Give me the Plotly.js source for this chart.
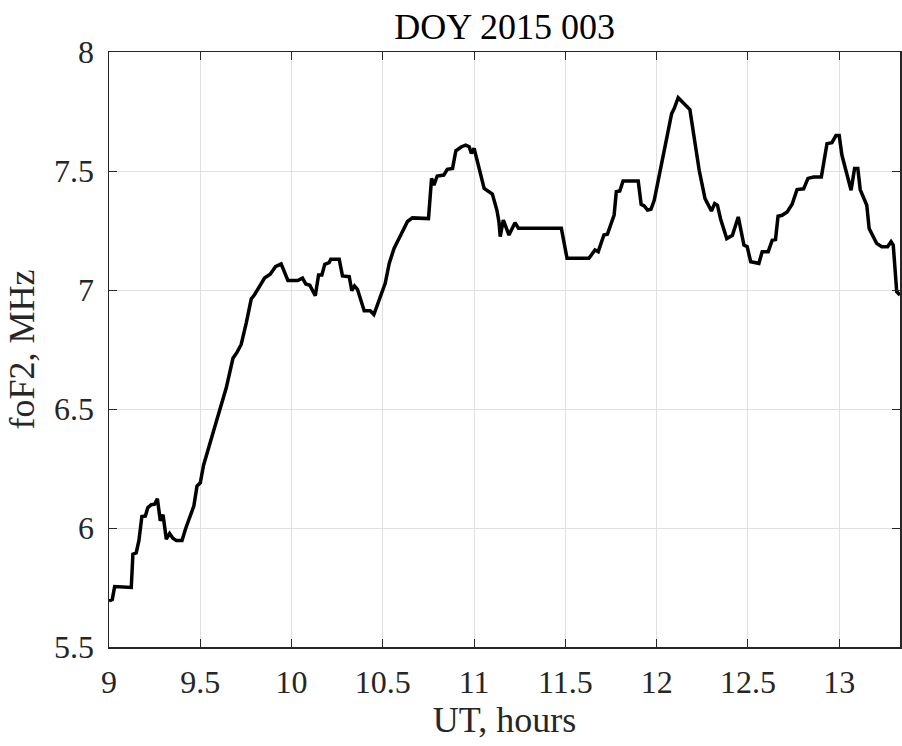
<!DOCTYPE html>
<html>
<head>
<meta charset="utf-8">
<script src="https://cdn.plot.ly/plotly-3.0.1.min.js"></script>
<style>html,body{margin:0;padding:0;background:#fff;}#chart{width:902px;height:746px;}</style>
</head>
<body>
<div id="chart"></div>
<script>
const utHours = [9.000,9.018,9.031,9.122,9.131,9.149,9.164,9.180,9.199,9.213,9.232,9.250,9.265,9.281,9.296,9.314,9.332,9.350,9.369,9.400,9.420,9.442,9.465,9.482,9.500,9.518,9.551,9.588,9.642,9.679,9.701,9.724,9.752,9.779,9.797,9.825,9.852,9.883,9.912,9.943,9.962,9.980,10.033,10.060,10.078,10.100,10.130,10.148,10.166,10.182,10.206,10.215,10.261,10.279,10.316,10.330,10.345,10.361,10.398,10.431,10.451,10.480,10.513,10.535,10.562,10.599,10.635,10.662,10.750,10.767,10.780,10.798,10.834,10.853,10.882,10.900,10.931,10.954,10.973,10.985,11.000,11.016,11.055,11.100,11.125,11.136,11.143,11.160,11.191,11.224,11.243,11.478,11.509,11.629,11.662,11.680,11.711,11.730,11.754,11.767,11.779,11.798,11.816,11.899,11.915,11.932,11.950,11.969,11.987,12.024,12.082,12.096,12.118,12.182,12.233,12.265,12.300,12.318,12.333,12.351,12.384,12.415,12.447,12.478,12.496,12.515,12.560,12.578,12.611,12.633,12.651,12.665,12.687,12.715,12.742,12.769,12.805,12.829,12.860,12.902,12.933,12.960,12.982,13.000,13.015,13.065,13.084,13.102,13.115,13.151,13.164,13.205,13.233,13.265,13.284,13.296,13.315,13.333];
const foF2 = [5.694,5.700,5.754,5.750,5.890,5.895,5.948,6.048,6.050,6.086,6.098,6.100,6.123,6.030,6.056,5.953,5.977,5.957,5.947,5.947,5.998,6.043,6.093,6.176,6.190,6.264,6.355,6.447,6.588,6.713,6.738,6.771,6.862,6.962,6.980,7.017,7.050,7.066,7.098,7.110,7.070,7.040,7.040,7.050,7.025,7.020,6.976,7.063,7.063,7.108,7.115,7.129,7.129,7.059,7.056,6.997,7.017,7.003,6.913,6.913,6.897,6.955,7.028,7.112,7.176,7.232,7.288,7.303,7.300,7.469,7.441,7.479,7.483,7.507,7.511,7.585,7.602,7.609,7.602,7.574,7.595,7.546,7.427,7.403,7.335,7.287,7.224,7.294,7.231,7.283,7.259,7.259,7.133,7.133,7.168,7.161,7.231,7.234,7.294,7.315,7.413,7.416,7.458,7.458,7.360,7.353,7.336,7.339,7.378,7.518,7.741,7.762,7.808,7.758,7.503,7.384,7.332,7.363,7.356,7.296,7.216,7.230,7.307,7.189,7.182,7.119,7.112,7.161,7.161,7.209,7.212,7.310,7.314,7.328,7.360,7.422,7.425,7.469,7.475,7.475,7.615,7.619,7.649,7.649,7.566,7.419,7.510,7.510,7.422,7.356,7.258,7.196,7.182,7.182,7.203,7.189,6.993,6.979];
const xTicks = [9, 9.5, 10, 10.5, 11, 11.5, 12, 12.5, 13];
const xTickLabels = ['9', '9.5', '10', '10.5', '11', '11.5', '12', '12.5', '13'];
const yTicks = [5.5, 6, 6.5, 7, 7.5, 8];
const yTickLabels = ['5.5', '6', '6.5', '7', '7.5', '8'];

const font = 'Liberation Serif, Times New Roman, serif';
const axisCol = '#262626';

const trace = {
  x: utHours, y: foF2, type: 'scatter', mode: 'lines',
  line: {color: '#000000', width: 3.5}, hoverinfo: 'skip'
};

const layout = {
  width: 902, height: 746,
  margin: {l: 109, r: 2, t: 52, b: 99},
  paper_bgcolor: '#ffffff', plot_bgcolor: '#ffffff',
  showlegend: false,
  title: {text: 'DOY 2015 003', font: {family: font, size: 36, color: '#000'}, x: 0.5594, xanchor: 'center', y: 0.965, yanchor: 'middle'},
  xaxis: {
    range: [9, 13.333], tickvals: xTicks, ticktext: xTickLabels,
    showgrid: true, gridcolor: '#e0e0e0', gridwidth: 1,
    zeroline: false, showline: true, linecolor: axisCol, linewidth: 1.5, mirror: 'ticks',
    ticks: 'inside', ticklen: 8, tickcolor: axisCol, tickwidth: 1,
    ticklabelstandoff: 6,
    tickfont: {family: font, size: 32, color: axisCol},
    title: {text: 'UT, hours', font: {family: font, size: 36, color: axisCol}, standoff: 6}
  },
  yaxis: {
    range: [5.5, 8], tickvals: yTicks, ticktext: yTickLabels,
    showgrid: true, gridcolor: '#e0e0e0', gridwidth: 1,
    zeroline: false, showline: true, linecolor: axisCol, linewidth: 1.5, mirror: 'ticks',
    ticks: 'inside', ticklen: 8, tickcolor: axisCol, tickwidth: 1,
    ticklabelstandoff: 7,
    tickfont: {family: font, size: 32, color: axisCol},
    title: {text: 'foF2, MHz', font: {family: font, size: 36, color: axisCol}, standoff: 8}
  }
};

Plotly.newPlot('chart', [trace], layout, {staticPlot: true, displayModeBar: false});
</script>
</body>
</html>
